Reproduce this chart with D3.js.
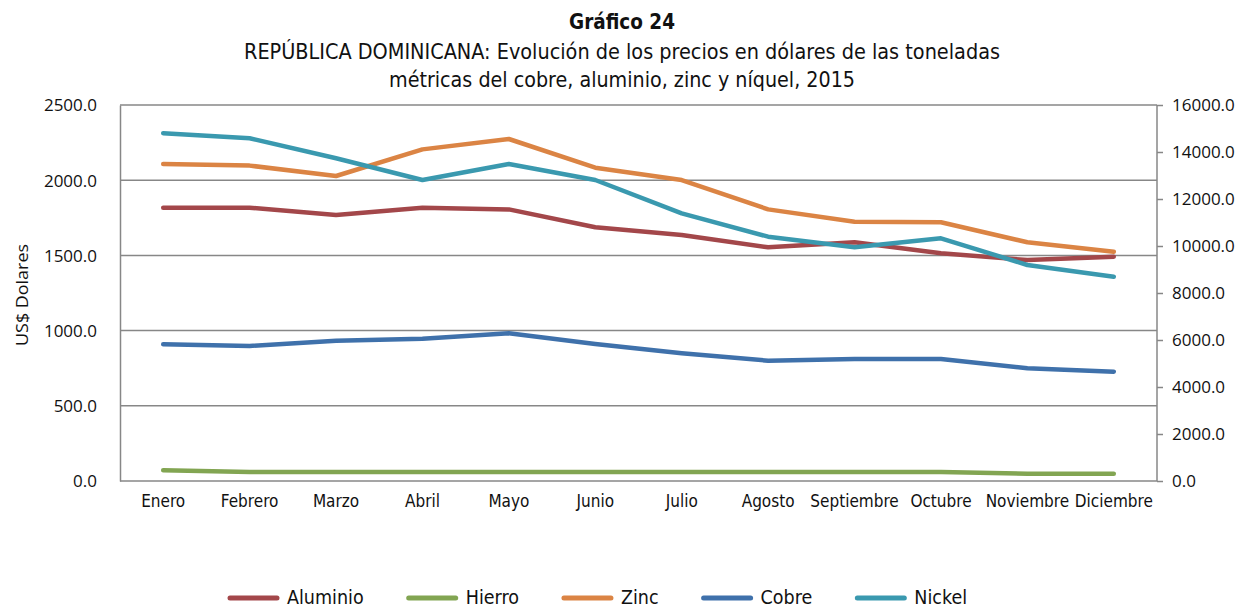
<!DOCTYPE html>
<html>
<head>
<meta charset="utf-8">
<script src="https://cdn.jsdelivr.net/npm/d3@7"></script>
<style>
  body { margin: 0; background: #fff; }
  svg { display: block; }
  .cond { font-family: "Liberation Sans Narrow", "DejaVu Sans Condensed", "Roboto", sans-serif; }
  .num { font-family: "Open Sans", "Liberation Sans", sans-serif; }
</style>
</head>
<body>
<svg id="chart" width="1242" height="610"></svg>
<script>
// data
const months = ["Enero", "Febrero", "Marzo", "Abril", "Mayo", "Junio", "Julio", "Agosto", "Septiembre", "Octubre", "Noviembre", "Diciembre"];
const aluminio = [1817, 1817, 1769, 1817, 1806, 1687, 1636, 1554, 1587, 1514, 1469, 1491];
const hierro = [72, 60, 60, 60, 60, 60, 60, 60, 60, 60, 48, 48];
const zinc = [2108, 2097, 2028, 2205, 2274, 2083, 2001, 1806, 1724, 1720, 1587, 1525];
const cobre = [5817, 5745, 5970, 6055, 6285, 5830, 5434, 5119, 5191, 5191, 4796, 4651];
const nickel = [14800, 14583, 13732, 12809, 13489, 12809, 11391, 10396, 9945, 10328, 9191, 8694];
const leftTicks = [0, 500, 1000, 1500, 2000, 2500];
const rightTicks = [0, 2000, 4000, 6000, 8000, 10000, 12000, 14000, 16000];

const series = [
  { name: "Aluminio", values: aluminio, axis: "left", color: "#A3474A" },
  { name: "Hierro", values: hierro, axis: "left", color: "#82A552" },
  { name: "Zinc", values: zinc, axis: "left", color: "#DB8444" },
  { name: "Cobre", values: cobre, axis: "right", color: "#3F71AB" },
  { name: "Nickel", values: nickel, axis: "right", color: "#3A99AF" }
];

const svg = d3.select("#chart");
const margin = { top: 105, right: 85, bottom: 129, left: 120 };
const width = 1242, height = 610;
const plotW = width - margin.left - margin.right;
const plotH = height - margin.top - margin.bottom;

const x = d3.scaleBand().domain(months).range([margin.left, margin.left + plotW]);
const yL = d3.scaleLinear().domain([0, 2500]).range([margin.top + plotH, margin.top]);
const yR = d3.scaleLinear().domain([0, 16000]).range([margin.top + plotH, margin.top]);
const grey = "#878787";

// titles
const title = svg.append("g").attr("class", "cond").attr("text-anchor", "middle").attr("fill", "#111");
title.append("text").attr("x", 622).attr("y", 29).attr("font-size", 22).attr("font-weight", "bold")
  .attr("textLength", 106).attr("lengthAdjust", "spacingAndGlyphs").text("Gráfico 24");
title.append("text").attr("x", 622).attr("y", 59).attr("font-size", 22)
  .attr("textLength", 756).attr("lengthAdjust", "spacingAndGlyphs")
  .text("REPÚBLICA DOMINICANA: Evolución de los precios en dólares de las toneladas");
title.append("text").attr("x", 622).attr("y", 87).attr("font-size", 22)
  .attr("textLength", 466).attr("lengthAdjust", "spacingAndGlyphs")
  .text("métricas del cobre, aluminio, zinc y níquel, 2015");

// grid lines from the left axis
svg.append("g").selectAll("line").data(leftTicks.slice(1)).join("line")
  .attr("x1", margin.left).attr("x2", margin.left + plotW)
  .attr("y1", d => yL(d)).attr("y2", d => yL(d))
  .attr("stroke", grey).attr("stroke-width", 1.5);

// left axis
const axL = svg.append("g").attr("transform", `translate(${margin.left},0)`)
  .call(d3.axisLeft(yL).tickValues(leftTicks).tickFormat(d3.format(".1f")).tickSize(0).tickPadding(23));
axL.select(".domain").attr("stroke", grey).attr("stroke-width", 1.5);
axL.selectAll("text").attr("class", "num").attr("font-size", 17).attr("fill", "#111").attr("dy", "0.35em");

// right axis
const axR = svg.append("g").attr("transform", `translate(${margin.left + plotW},0)`)
  .call(d3.axisRight(yR).tickValues(rightTicks).tickFormat(d3.format(".1f")).tickSize(6).tickPadding(9));
axR.select(".domain").attr("stroke", grey).attr("stroke-width", 1.5).attr("d", `M0,${margin.top}V${margin.top + plotH}`);
axR.selectAll("line").attr("stroke", grey).attr("stroke-width", 1.5);
axR.selectAll("text").attr("class", "num").attr("font-size", 17).attr("fill", "#111").attr("dy", "0.35em");

// bottom axis
const axB = svg.append("g").attr("transform", `translate(0,${margin.top + plotH})`)
  .call(d3.axisBottom(x).tickSize(0).tickPadding(14));
axB.select(".domain").attr("stroke", grey).attr("stroke-width", 1.5).attr("d", `M${margin.left},0H${margin.left + plotW}`);
axB.selectAll("text").attr("class", "cond").attr("font-size", 17).attr("fill", "#111");

// y label
svg.append("text").attr("class", "num").attr("font-size", 17).attr("fill", "#111")
  .attr("text-anchor", "middle").attr("transform", "translate(28,295) rotate(-90)")
  .attr("textLength", 102).attr("lengthAdjust", "spacingAndGlyphs")
  .text("US$ Dolares");

// lines
series.forEach(s => {
  const y = s.axis === "left" ? yL : yR;
  const line = d3.line().x((d, i) => x(months[i]) + x.bandwidth() / 2).y(d => y(d));
  svg.append("path").datum(s.values)
    .attr("fill", "none").attr("stroke", s.color).attr("stroke-width", 4.5)
    .attr("stroke-linecap", "round").attr("stroke-linejoin", "round")
    .attr("d", line);
});

// legend
const legend = svg.append("g").attr("transform", "translate(228,598)");
let lx = 0;
series.forEach(s => {
  const g = legend.append("g").attr("transform", `translate(${lx},0)`);
  g.append("line").attr("x1", 2).attr("x2", 49).attr("y1", 0).attr("y2", 0)
    .attr("stroke", s.color).attr("stroke-width", 5).attr("stroke-linecap", "round");
  const t = g.append("text").attr("class", "cond").attr("x", 59).attr("y", 6)
    .attr("font-size", 19.5).attr("fill", "#111").text(s.name);
  lx += 59 + t.node().getComputedTextLength() + 43;
});
</script>
</body>
</html>
